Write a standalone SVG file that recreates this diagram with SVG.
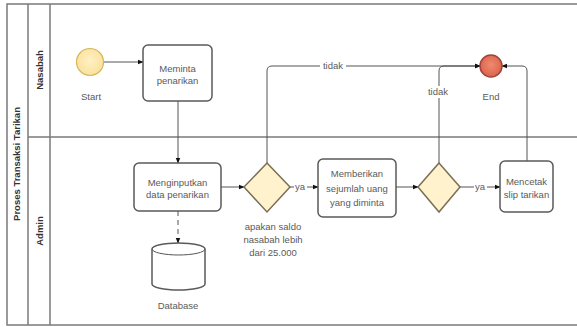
<svg xmlns="http://www.w3.org/2000/svg" width="577" height="327" viewBox="0 0 577 327">
  <defs>
    <marker id="arr" viewBox="0 0 10 10" refX="9" refY="5" markerWidth="6" markerHeight="6" orient="auto" markerUnits="userSpaceOnUse">
      <path d="M0,1 L10,5 L0,9 z" fill="#111"/>
    </marker>
    <radialGradient id="endg" cx="50%" cy="45%" r="60%">
      <stop offset="0" stop-color="#f08a6e"/>
      <stop offset="1" stop-color="#d9604a"/>
    </radialGradient>
    <radialGradient id="startg" cx="50%" cy="45%" r="60%">
      <stop offset="0" stop-color="#fff1c4"/>
      <stop offset="1" stop-color="#f9e09a"/>
    </radialGradient>
  </defs>
  <style>
    .frame{fill:none;stroke:#7a7a7a;stroke-width:1.5}
    .task{fill:#fff;stroke:#5a5a5a;stroke-width:1.5}
    .gw{fill:#fff2cc;stroke:#7a6e55;stroke-width:1.5}
    .conn{fill:none;stroke:#555;stroke-width:1}
    .t{font-family:"Liberation Sans",Arial,sans-serif;font-size:9.5px;fill:#5a5a5a;text-anchor:middle}
    .lbl{font-family:"Liberation Sans",Arial,sans-serif;font-size:9.5px;font-weight:bold;fill:#333;text-anchor:middle}
    .bg{fill:#fff}
  </style>
  <rect width="577" height="327" fill="#fff"/>

  <g id="pool">
    <rect class="frame" x="7" y="4" width="580" height="321"/>
    <line class="frame" x1="28" y1="4" x2="28" y2="325"/>
    <line class="frame" x1="50" y1="4" x2="50" y2="325"/>
    <line class="frame" x1="28" y1="137" x2="580" y2="137"/>
    <text class="lbl" transform="translate(20,164) rotate(-90)">Proses Transaksi Tarikan</text>
    <text class="lbl" transform="translate(43,70) rotate(-90)">Nasabah</text>
    <text class="lbl" transform="translate(43,231) rotate(-90)">Admin</text>
  </g>

  <g id="connectors">
    <line class="conn" x1="104" y1="62" x2="143" y2="62" marker-end="url(#arr)"/>
    <line class="conn" x1="178" y1="101" x2="178" y2="163" marker-end="url(#arr)"/>
    <line class="conn" x1="221" y1="187" x2="244" y2="187" marker-end="url(#arr)"/>
    <line class="conn" x1="178" y1="211" x2="178" y2="243" stroke-dasharray="5,4" marker-end="url(#arr)"/>
    <path class="conn" d="M267,163 V71 Q267,66 272,66 H480" marker-end="url(#arr)"/>
    <rect class="bg" x="320" y="60" width="26" height="11"/>
    <text class="t" x="333" y="69">tidak</text>
    <line class="conn" x1="290" y1="187" x2="318" y2="187" marker-end="url(#arr)"/>
    <rect class="bg" x="294" y="181" width="13" height="11"/>
    <text class="t" x="300" y="190">ya</text>
    <line class="conn" x1="396" y1="187" x2="418" y2="187" marker-end="url(#arr)"/>
    <path class="conn" d="M439,163 V71 Q439,66 444,66 H480" marker-end="url(#arr)"/>
    <rect class="bg" x="425" y="86" width="26" height="12"/>
    <text class="t" x="438" y="95">tidak</text>
    <line class="conn" x1="460" y1="187" x2="500" y2="187" marker-end="url(#arr)"/>
    <rect class="bg" x="474" y="181" width="13" height="11"/>
    <text class="t" x="480" y="190">ya</text>
    <path class="conn" d="M527,161 V71 Q527,66 522,66 H502" marker-end="url(#arr)"/>
  </g>

  <g id="start">
    <circle cx="90" cy="62" r="13.5" fill="url(#startg)" stroke="#d6b656" stroke-width="1.2"/>
    <text class="t" x="91" y="100">Start</text>
  </g>

  <g id="end">
    <circle cx="491" cy="66" r="11" fill="url(#endg)" stroke="#a0443a" stroke-width="1.5"/>
    <text class="t" x="491" y="100">End</text>
  </g>

  <g id="meminta">
    <rect class="task" x="143" y="45" width="69" height="56" rx="5"/>
    <text class="t" x="177.5" y="72">Meminta</text>
    <text class="t" x="177.5" y="84">penarikan</text>
  </g>

  <g id="menginputkan">
    <rect class="task" x="134" y="163" width="87" height="48" rx="5"/>
    <text class="t" x="177.5" y="186">Menginputkan</text>
    <text class="t" x="177.5" y="198">data penarikan</text>
  </g>

  <g id="database">
    <path class="task" d="M152,249 A26.5,6 0 0,1 205,249 V284 A26.5,6 0 0,1 152,284 Z"/>
    <path class="conn" d="M152,249 A26.5,6 0 0,0 205,249" stroke="#5a5a5a" stroke-width="1.5"/>
    <text class="t" x="178" y="309">Database</text>
  </g>

  <g id="gateway1">
    <polygon class="gw" points="267,163 290,187 267,212 244,187"/>
    <text class="t" x="273" y="230">apakan saldo</text>
    <text class="t" x="273" y="243">nasabah lebih</text>
    <text class="t" x="273" y="256">dari 25.000</text>
  </g>

  <g id="memberikan">
    <rect class="task" x="318" y="159" width="78" height="58" rx="5"/>
    <text class="t" x="357" y="177">Memberikan</text>
    <text class="t" x="357" y="192">sejumlah uang</text>
    <text class="t" x="357" y="206">yang diminta</text>
  </g>

  <g id="gateway2">
    <polygon class="gw" points="439,163 460,187 439,212 418,187"/>
  </g>

  <g id="mencetak">
    <rect class="task" x="500" y="161" width="53" height="51" rx="5"/>
    <text class="t" x="526.5" y="185">Mencetak</text>
    <text class="t" x="526.5" y="198">slip tarikan</text>
  </g>
</svg>
